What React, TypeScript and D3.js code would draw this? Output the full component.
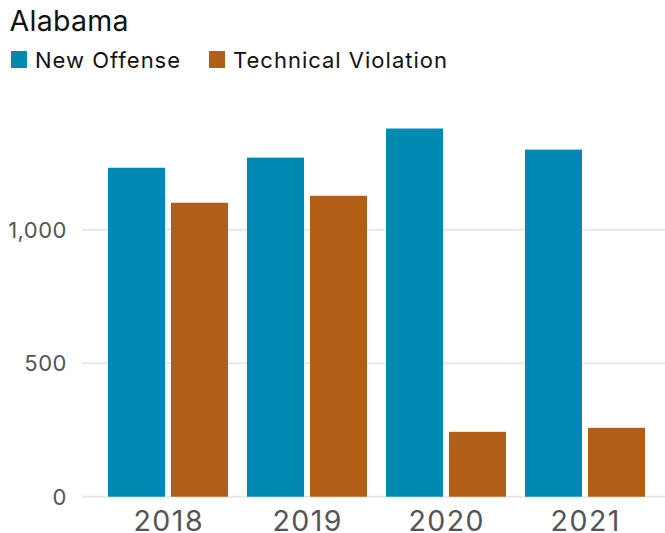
import React from "react";
import * as d3 from "d3";

const title = "Alabama";
const years = ["2018", "2019", "2020", "2021"];
const seriesNames = ["New Offense", "Technical Violation"];
const newOffense = [1232, 1270, 1379, 1300];
const technicalViolation = [1101, 1127, 243, 258];
const yTicks = [0, 500, 1000];
const colors = ["#008ab3", "#b15e16"];

const W = 665;
const H = 533;
const FONT = "Inter, 'Public Sans', 'Liberation Sans', sans-serif";

export default function App() {
  const x = d3
    .scaleBand<string>()
    .domain(years)
    .range([98.5, 654.5])
    .paddingInner(0.1367)
    .paddingOuter(0.0683);
  const xs = d3
    .scaleBand<string>()
    .domain(seriesNames)
    .range([0, x.bandwidth()])
    .paddingInner(0.0952)
    .paddingOuter(0);
  const y = d3.scaleLinear().domain([0, 1400]).range([496.7, 122.9]);
  const fmt = d3.format(",");
  const values = [newOffense, technicalViolation];

  return (
    <svg
      width={W}
      height={H}
      style={{ position: "absolute", left: 0, top: 0, display: "block" }}
      fontFamily={FONT}
    >
      <rect width={W} height={H} fill="#fff" />
      <text x={9.5} y={31} fontSize={28.5} letterSpacing={0.3} fill="#111">
        {title}
      </text>
      {seriesNames.map((s, i) => {
        const lx = i === 0 ? 11 : 209;
        return (
          <g key={s}>
            <rect x={lx} y={51} width={16} height={17} fill={colors[i]} />
            <text x={lx + 24} y={68} fontSize={22} letterSpacing={1} fill="#111">
              {s}
            </text>
          </g>
        );
      })}
      {yTicks.map((t) => (
        <g key={t}>
          <line x1={82} x2={665} y1={y(t)} y2={y(t)} stroke="#e8e8e8" strokeWidth={2} />
          <text
            x={67}
            y={y(t)}
            dy="0.36em"
            textAnchor="end"
            fontSize={22}
            letterSpacing={0.5}
            fill="#555"
          >
            {fmt(t)}
          </text>
        </g>
      ))}
      {years.map((yr, gi) => (
        <g key={yr} transform={`translate(${x(yr)},0)`}>
          {seriesNames.map((s, si) => {
            const v = values[si][gi];
            return (
              <rect
                key={s}
                x={xs(s)}
                y={y(v)}
                width={xs.bandwidth()}
                height={y(0) - y(v)}
                fill={colors[si]}
              />
            );
          })}
          <text
            x={x.bandwidth() / 2 + 0.75}
            y={531}
            textAnchor="middle"
            fontSize={28.5}
            letterSpacing={1.5}
            fill="#555"
          >
            {yr}
          </text>
        </g>
      ))}
    </svg>
  );
}
